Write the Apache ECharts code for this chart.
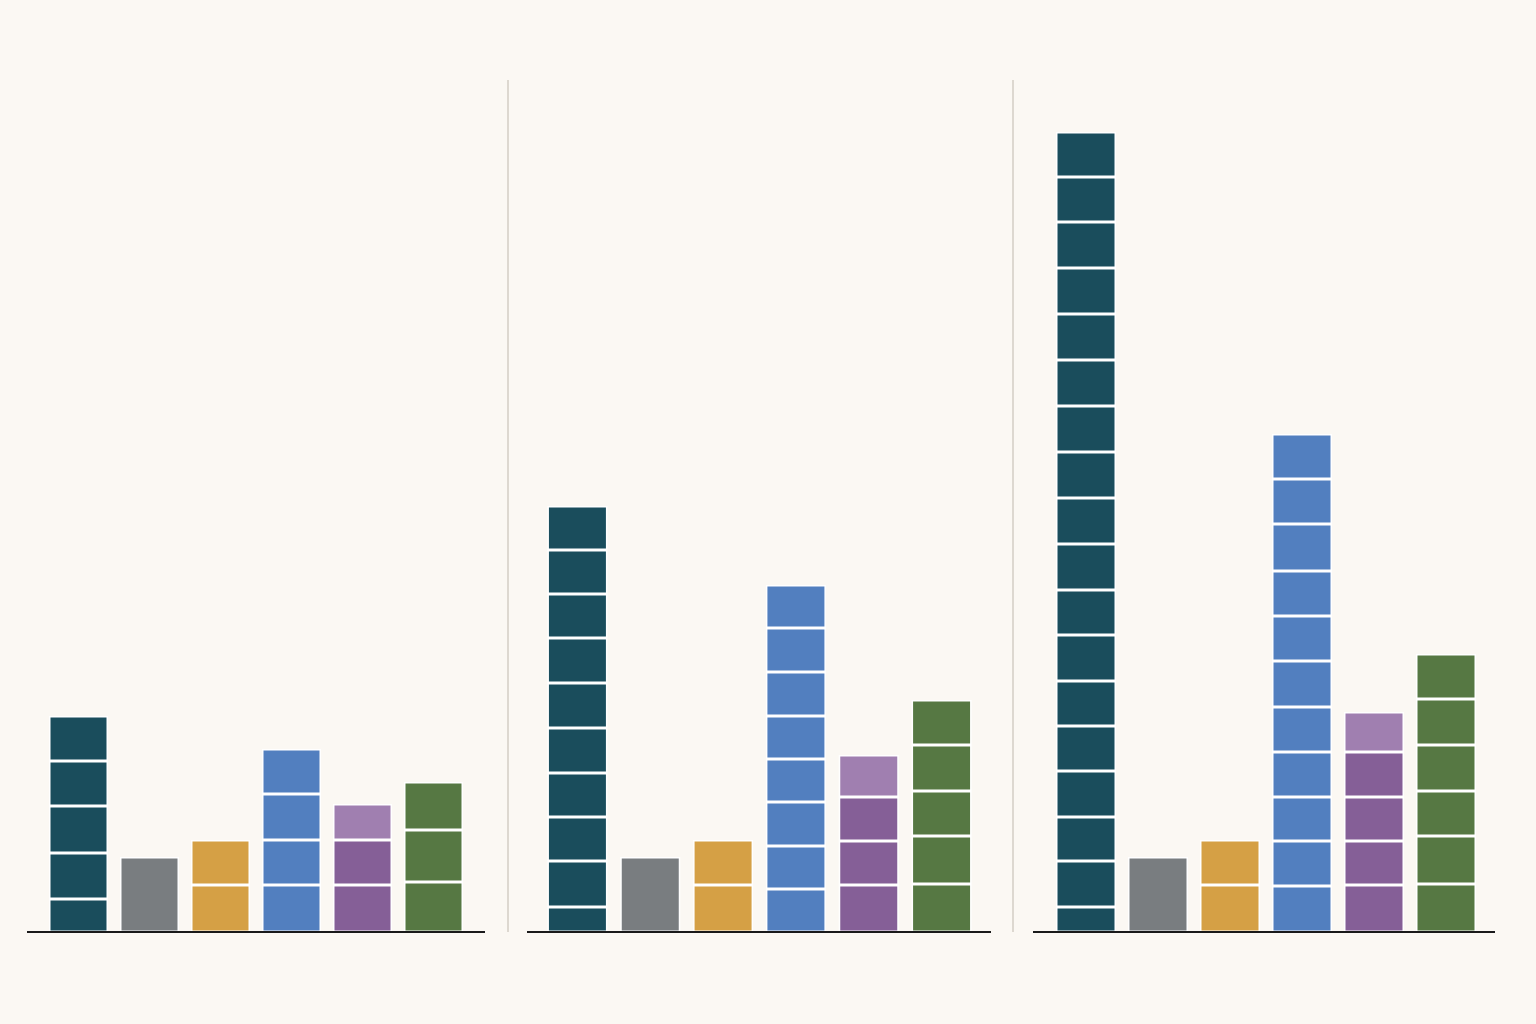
<!DOCTYPE html>
<html><head><meta charset="utf-8">
<script src="https://cdn.jsdelivr.net/npm/echarts@6/dist/echarts.min.js"></script>
<style>html,body{margin:0;background:#fbf8f3}#c{width:1536px;height:1024px}</style>
</head><body><div id="c"></div>
<script>
const categories = ['A','B','C','D','E','F'];
const colors = ['#1a4d5c','#797d80','#d5a045','#527fbf','#855f97','#567843'];
const purpleTop = '#a07fb0';
// segment values per bar, bottom to top
const panel1 = [[33,46,47,45,45],[75],[47,45],[47,45,46,45],[47,45,36],[50,52,48]];
const panel2 = [[25,46,44,44,45,45,45,44,44,44],[75],[47,45],[43,43,44,43,43,44,44,43],[47,44,44,42],[48,48,45,46,45]];
const panel3 = [[25,46,44,46,45,45,46,45,46,46,46,46,46,46,46,46,45,45],[75],[47,45],[46,45,44,45,45,46,45,45,47,45,45],[47,44,44,45,40],[48,48,45,46,46,45]];
const panels = [panel1, panel2, panel3];
const grids = [{left:43,width:426,bw:59},{left:541,width:437,bw:60},{left:1050,width:432,bw:60}];

const option = {backgroundColor:'#fbf8f3', animation:false, grid:[], xAxis:[], yAxis:[], series:[],
  graphic:[
    {type:'line',z:100,shape:{x1:27,y1:932,x2:485,y2:932},style:{stroke:'#1a1a1a',lineWidth:2}},
    {type:'line',z:100,shape:{x1:527,y1:932,x2:991,y2:932},style:{stroke:'#1a1a1a',lineWidth:2}},
    {type:'line',z:100,shape:{x1:1033,y1:932,x2:1495,y2:932},style:{stroke:'#1a1a1a',lineWidth:2}},
    {type:'line',z:100,shape:{x1:508,y1:80,x2:508,y2:932},style:{stroke:'#ddd8d0',lineWidth:2}},
    {type:'line',z:100,shape:{x1:1013,y1:80,x2:1013,y2:932},style:{stroke:'#ddd8d0',lineWidth:2}}
  ]};
panels.forEach((p,gi)=>{
  option.grid.push({left:grids[gi].left,width:grids[gi].width,top:132,bottom:92});
  option.xAxis.push({type:'category',gridIndex:gi,data:categories,axisLine:{show:false},axisTick:{show:false},axisLabel:{show:false}});
  option.yAxis.push({type:'value',gridIndex:gi,min:0,max:800,show:false,splitLine:{show:false}});
  const maxLen = Math.max(...p.map(a=>a.length));
  for(let k=0;k<maxLen;k++){
    option.series.push({type:'bar',xAxisIndex:gi,yAxisIndex:gi,stack:'s'+gi,barWidth:grids[gi].bw,
      data:p.map((segs,ci)=>{
        if(k>=segs.length) return '-';
        let c = colors[ci];
        if(ci===4 && k===segs.length-1) c = purpleTop;
        return {value:segs[k],itemStyle:{color:c}};
      }),
      itemStyle:{borderColor:'#ffffff',borderWidth:1.5}});
  }
});
echarts.init(document.getElementById('c')).setOption(option);
</script></body></html>
